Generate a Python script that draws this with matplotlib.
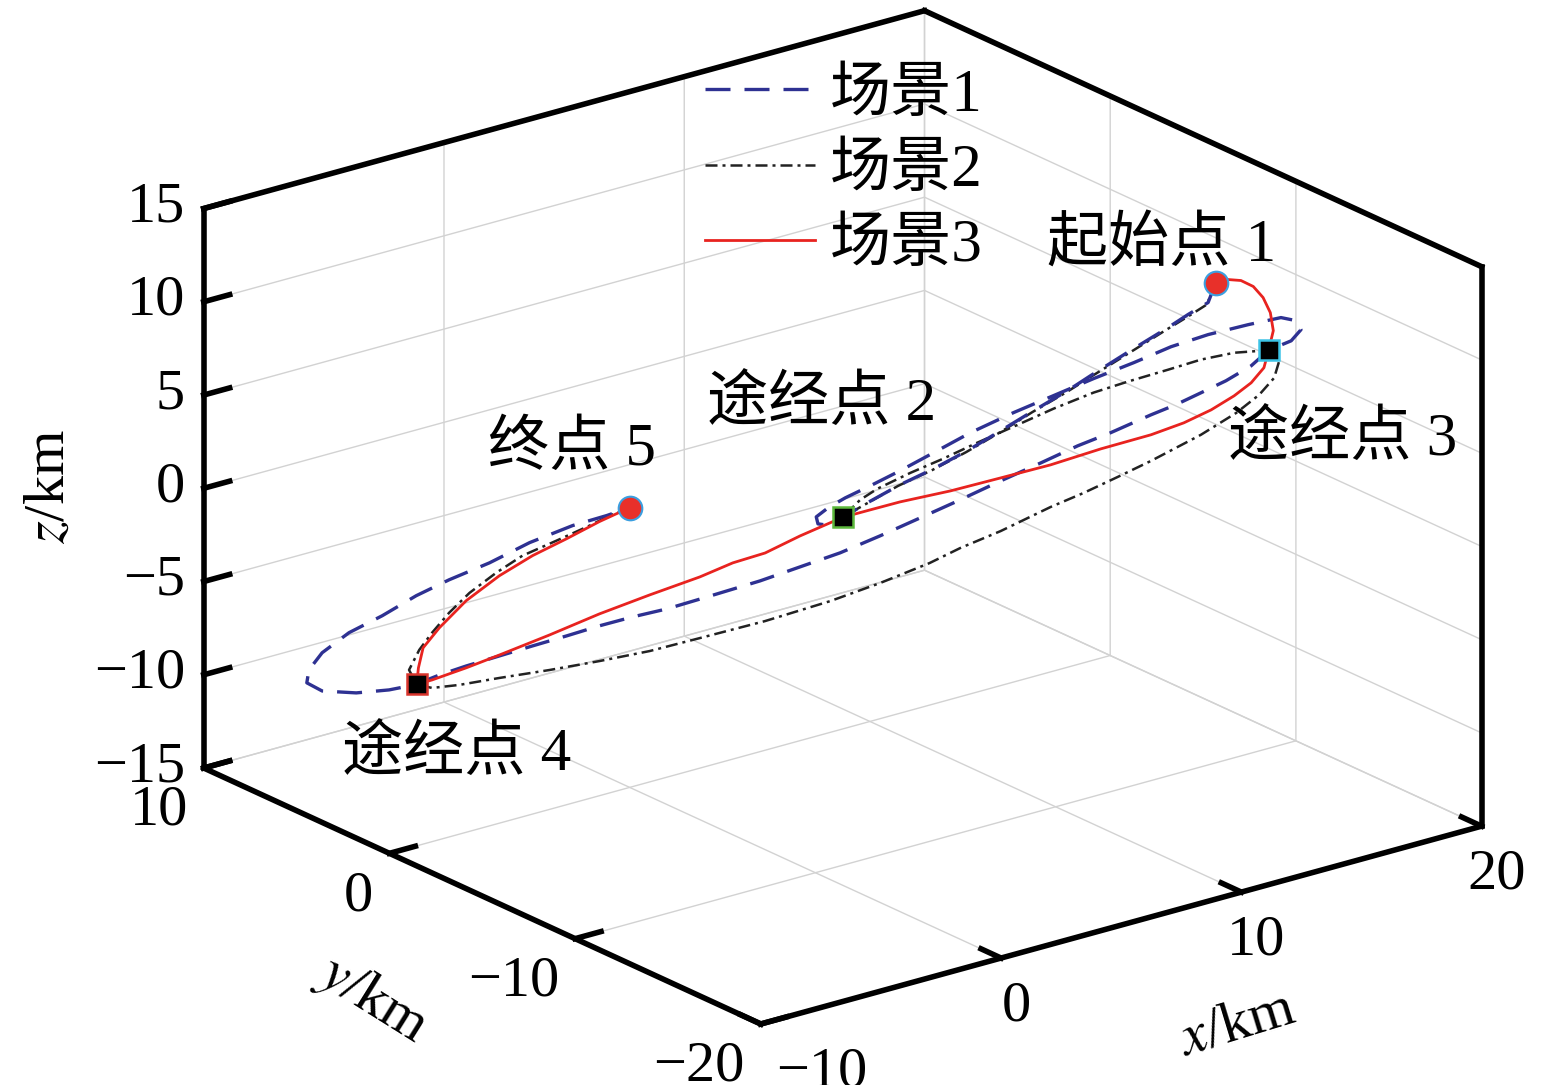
import matplotlib
matplotlib.use("Agg")
import matplotlib.pyplot as plt

plt.rcParams['font.family'] = ['Liberation Serif', 'Noto Sans CJK SC']
plt.rcParams['mathtext.fontset'] = 'stix'
plt.rcParams['axes.unicode_minus'] = True
plt.rcParams['grid.color'] = '#d2d2d2'
plt.rcParams['grid.linewidth'] = 1.0

# waypoints: 起始点1, 途经点2, 途经点3, 途经点4, 终点5
pt_x = [13.76, 5.0, 15.0, -5.0, 0.0]
pt_y = [-13.76, -5.0, -15.0, 5.0, 0.0]
pt_z = [13.5, 0.0, 10.0, -10.0, 0.0]

# scenario 1 (blue dashed): 1 -> 2 -> loop -> 3 -> 4 -> loop -> 5
s1_x = [13.76, 13.58, 13.11, 12.64, 11.76, 10.82, 10.28, 9.48, 8.71, 7.93, 7.13, 6.35, 5.58, 5.18, 5.0,
        4.75, 4.42, 4.38, 4.66, 5.06, 5.65, 6.35, 7.13, 8.0, 9.01, 9.95, 10.89, 11.84, 12.71, 13.58,
        14.52, 15.29, 15.65, 15.76, 15.53, 15.0,
        14.59, 14.0, 13.41, 12.82, 12.24, 11.29, 10.52, 9.65, 8.71, 7.65, 6.82, 5.88, 4.94, 4.0, 3.06,
        1.65, 0.87, 0.07, -0.71, -1.48, -2.28, -3.06, -3.84, -4.47, -4.94, -5.0,
        -5.65, -6.42, -7.22, -7.58, -7.53, -7.22, -6.59, -5.81, -5.01, -4.24, -3.29, -2.35, -1.34, -0.54, 0.0]
s1_y = [-13.76, -13.58, -13.11, -12.64, -11.76, -10.82, -10.28, -9.48, -8.71, -7.93, -7.13, -6.35, -5.58, -5.18, -5.0,
        -4.75, -4.42, -4.38, -4.66, -5.06, -5.65, -6.35, -7.13, -8.0, -9.01, -9.95, -10.89, -11.84, -12.71, -13.58,
        -14.52, -15.29, -15.65, -15.76, -15.53, -15.0,
        -14.59, -14.0, -13.41, -12.82, -12.24, -11.29, -10.52, -9.65, -8.71, -7.65, -6.82, -5.88, -4.94, -4.0, -3.06,
        -1.65, -0.87, -0.07, 0.71, 1.48, 2.28, 3.06, 3.84, 4.47, 4.94, 5.0,
        5.65, 6.42, 7.22, 7.58, 7.53, 7.22, 6.59, 5.81, 5.01, 4.24, 3.29, 2.35, 1.34, 0.54, 0.0]
s1_z = [13.5, 12.41, 11.72, 10.97, 9.65, 8.20, 7.34, 6.18, 5.03, 3.88, 2.82, 1.89, 0.84, 0.26, 0.0,
        -0.48, -0.41, -0.04, 0.48, 1.05, 1.76, 2.64, 3.68, 4.85, 6.03, 7.04, 8.05, 9.01, 9.95, 10.69,
        11.32, 11.78, 11.65, 11.18, 10.56, 10.0,
        9.12, 8.26, 7.55, 6.85, 6.25, 5.19, 4.41, 3.40, 2.34, 1.10, 0.16, -0.90, -1.91, -2.76, -3.61,
        -4.73, -5.34, -5.85, -6.41, -7.03, -7.65, -8.27, -8.89, -9.44, -9.91, -10.0,
        -10.36, -10.60, -10.58, -10.18, -9.48, -8.53, -7.39, -6.40, -5.24, -4.31, -3.30, -2.12, -1.10, -0.48, 0.0]

# scenario 2 (black dash-dot): 1 -> 2 -> 3 -> 4 -> 5
s2_x = [13.76, 13.55, 13.10, 12.60, 11.75, 10.80, 10.25, 9.45, 8.70, 7.90, 7.10, 6.30, 5.55, 5.15, 5.0,
        5.41, 5.81, 6.59, 7.36, 8.16, 9.11, 9.95, 10.89, 11.69, 12.64, 13.41, 14.19, 15.0,
        15.25, 15.13, 14.78, 14.24, 13.41, 12.24, 11.46, 10.66, 9.88, 8.71, 7.76, 7.04, 5.88, 4.71, 3.18,
        1.65, 0.47, -0.71, -1.88, -3.06, -4.0, -4.64, -5.0,
        -5.18, -4.94, -4.64, -4.24, -3.76, -3.13, -2.52, -1.72, -0.94, -0.47, 0.0]
s2_y = [-13.76, -13.55, -13.10, -12.60, -11.75, -10.80, -10.25, -9.45, -8.70, -7.90, -7.10, -6.30, -5.55, -5.15, -5.0,
        -5.41, -5.81, -6.59, -7.36, -8.16, -9.11, -9.95, -10.89, -11.69, -12.64, -13.41, -14.19, -15.0,
        -15.25, -15.13, -14.78, -14.24, -13.41, -12.24, -11.46, -10.66, -9.88, -8.71, -7.76, -7.04, -5.88, -4.71, -3.18,
        -1.65, -0.47, 0.71, 1.88, 3.06, 4.0, 4.64, 5.0,
        5.18, 4.94, 4.64, 4.24, 3.76, 3.13, 2.52, 1.72, 0.94, 0.47, 0.0]
s2_z = [13.5, 12.30, 11.60, 10.85, 9.55, 8.10, 7.25, 6.10, 4.95, 3.80, 2.75, 1.82, 0.78, 0.22, 0.0,
        0.98, 1.61, 2.55, 3.39, 4.33, 5.39, 6.34, 7.30, 7.97, 8.71, 9.33, 9.78, 10.0,
        9.46, 8.53, 7.59, 6.56, 5.30, 3.78, 2.84, 1.90, 1.06, -0.35, -1.36, -2.24, -3.43, -4.52, -5.75,
        -6.82, -7.64, -8.30, -8.90, -9.45, -9.92, -10.15, -10.0,
        -9.24, -8.14, -7.19, -6.08, -4.96, -3.81, -2.84, -1.95, -1.06, -0.48, 0.0]

# scenario 3 (red solid): 1 -> 3 -> 2 -> 4 -> 5
s3_x = [13.76, 14.05, 14.35, 14.64, 14.87, 15.04, 15.11, 15.0, 14.89, 14.59, 14.19, 13.65, 13.01, 12.24, 11.06, 9.88,
        8.71, 7.53, 6.35, 5.65, 5.0, 4.0, 3.18, 2.42, 1.65, 0.47, -0.71, -1.88, -3.06, -3.84, -4.64, -5.0,
        -4.96, -4.85, -4.47, -3.84, -3.06, -2.28, -1.48, -0.71, 0.0]
s3_y = [-13.76, -14.05, -14.35, -14.64, -14.87, -15.04, -15.11, -15.0, -14.89, -14.59, -14.19, -13.65, -13.01, -12.24,
        -11.06, -9.88, -8.71, -7.53, -6.35, -5.65, -5.0, -4.0, -3.18, -2.42, -1.65, -0.47, 0.71, 1.88, 3.06, 3.84,
        4.64, 5.0, 4.96, 4.85, 4.47, 3.84, 3.06, 2.28, 1.48, 0.71, 0.0]
s3_z = [13.5, 13.69, 13.67, 13.38, 12.81, 12.02, 11.06, 10.0, 9.05, 8.21, 7.47, 6.66, 5.90, 5.18, 4.30, 3.32,
        2.50, 1.68, 0.97, 0.47, 0.0, -1.10, -2.10, -2.71, -3.54, -4.63, -5.77, -7.02, -8.22, -8.99, -9.72, -10.0,
        -9.11, -8.02, -6.91, -5.39, -3.97, -2.81, -1.82, -0.82, 0.0]

x_ticks = [-10, 0, 10, 20]
y_ticks = [-20, -10, 0, 10]
z_ticks = [-15, -10, -5, 0, 5, 10, 15]
legend_labels = ['场景1', '场景2', '场景3']

W, H = 1559, 1085
fig = plt.figure(figsize=(W / 100, H / 100), dpi=100)

# square 3d axes, placed so that the box lands where it is in the picture
side, cx, cy = 1085, 828, 532
ax = fig.add_axes([(cx - side / 2) / W, (H - cy - side / 2) / H, side / W, side / H],
                  projection='3d', computed_zorder=False)
ax.set_proj_type('ortho')
ax.view_init(elev=20.8, azim=-127.7)
ax.set_box_aspect((1, 1, 0.657), zoom=1.271)

ax.set_xlim(-10, 20)
ax.set_ylim(-20, 10)
ax.set_zlim(-15, 15)
ax.set_xticks(x_ticks)
ax.set_yticks(y_ticks)
ax.set_zticks(z_ticks)

for a in (ax.xaxis, ax.yaxis, ax.zaxis):
    a.set_pane_color((1, 1, 1, 0))
    a.pane.set_edgecolor((1, 1, 1, 0))
    a.line.set_color((0, 0, 0, 0))
    a._axinfo['tick']['inward_factor'] = 0.0
    a._axinfo['tick']['outward_factor'] = 0.45
    a._axinfo['tick']['linewidth'] = {True: 4.0, False: 4.0}
    a._axinfo['tick']['color'] = 'black'
    if hasattr(a, 'gridlines'):
        a.gridlines.set_clip_on(False)

ax.tick_params(labelsize=42)
ax.tick_params(axis='x', pad=3)
ax.tick_params(axis='y', pad=1)
ax.tick_params(axis='z', pad=-2)
plt.setp(ax.get_yticklabels(), ha='right')
plt.setp(ax.get_zticklabels(), ha='right', va='center')
# the "-10" at the corner sits right of its tick
ax.xaxis.get_major_ticks()[0].label1.set_ha('left')

# thick outline of the box
xl, yl, zl = (-10, 20), (-20, 10), (-15, 15)
box_edges = [
    ((xl[0], xl[0]), (yl[1], yl[1]), (zl[0], zl[1])),
    ((xl[0], xl[1]), (yl[1], yl[1]), (zl[1], zl[1])),
    ((xl[1], xl[1]), (yl[1], yl[0]), (zl[1], zl[1])),
    ((xl[1], xl[1]), (yl[0], yl[0]), (zl[1], zl[0])),
    ((xl[1], xl[0]), (yl[0], yl[0]), (zl[0], zl[0])),
    ((xl[0], xl[0]), (yl[0], yl[1]), (zl[0], zl[0])),
]
for ex, ey, ez in box_edges:
    ax.plot(ex, ey, ez, color='black', lw=4.0, solid_capstyle='projecting', zorder=1, clip_on=False)

l2, = ax.plot(s2_x, s2_y, s2_z, color='#222222', lw=1.8, dashes=(4.8, 2.0, 1.2, 2.0), zorder=3, clip_on=False)
l1, = ax.plot(s1_x, s1_y, s1_z, color='#2e3192', lw=2.4, dashes=(7.5, 4.2), zorder=4, clip_on=False)
l3, = ax.plot(s3_x, s3_y, s3_z, color='#e8231f', lw=2.0, zorder=5, clip_on=False)

# waypoint markers
ax.plot([pt_x[0]], [pt_y[0]], [pt_z[0]], 'o', ms=17, mfc='#e8302a', mec='#3b9fe0', mew=1.5, zorder=6)
ax.plot([pt_x[4]], [pt_y[4]], [pt_z[4]], 'o', ms=17, mfc='#e8302a', mec='#3b9fe0', mew=1.5, zorder=6)
ax.plot([pt_x[1]], [pt_y[1]], [pt_z[1]], 's', ms=14, mfc='black', mec='#5cb83c', mew=1.8, zorder=6)
ax.plot([pt_x[2]], [pt_y[2]], [pt_z[2]], 's', ms=14, mfc='black', mec='#3cc3e6', mew=1.8, zorder=6)
ax.plot([pt_x[3]], [pt_y[3]], [pt_z[3]], 's', ms=14, mfc='black', mec='#d8342c', mew=1.8, zorder=6)

fig.legend([l1, l2, l3], legend_labels, loc='upper left', bbox_to_anchor=(705 / W, 1 - 68 / H),
           frameon=False, fontsize=44, handlelength=1.8, handletextpad=0.25, labelspacing=0.32,
           borderpad=0, borderaxespad=0)

# axis titles
fig.text(1237 / W, 1 - 1025 / H, '$x$/km', fontsize=42, rotation=17, ha='center', va='center')
fig.text(372 / W, 1 - 1000 / H, '$y$/km', fontsize=42, rotation=-32, ha='center', va='center')
fig.text(50 / W, 1 - 487 / H, '$z$/km', fontsize=42, rotation=90, ha='center', va='center')

lab_font = dict(fontsize=44, ha='center', va='center')
fig.text(1162 / W, 1 - 245 / H, '起始点 1', **lab_font)
fig.text(822 / W, 1 - 405 / H, '途经点 2', **lab_font)
fig.text(1343 / W, 1 - 440 / H, '途经点 3', **lab_font)
fig.text(457 / W, 1 - 755 / H, '途经点 4', **lab_font)
fig.text(572 / W, 1 - 450 / H, '终点 5', **lab_font)

fig.savefig('out.png', dpi=100)
